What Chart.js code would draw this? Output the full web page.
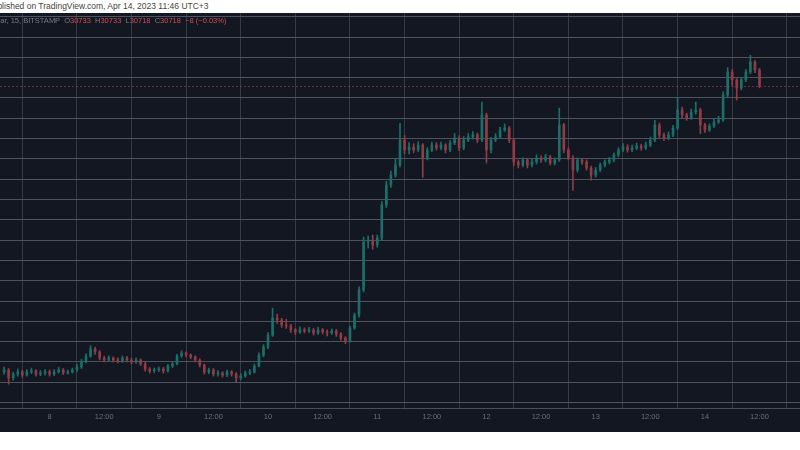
<!DOCTYPE html>
<html><head><meta charset="utf-8">
<script src="https://cdn.jsdelivr.net/npm/chart.js@4.4.0/dist/chart.umd.min.js"></script>
<style>
html,body{margin:0;padding:0;background:#fff;width:800px;height:450px;overflow:hidden;font-family:"Liberation Sans",Arial,sans-serif}
#pub{position:absolute;left:-13px;top:1px;font-size:8.5px;color:#444;white-space:nowrap}
#wrap{position:absolute;left:0;top:13px;width:800px;height:419px;background:#131722}
#hdr{position:absolute;left:-6px;top:16px;font-size:7.5px;color:#787b86;white-space:nowrap;z-index:2}
#hdr span{color:#d04b55}
</style></head><body>
<div id="pub">Published on TradingView.com, Apr 14, 2023 11:46 UTC+3</div>
<div id="hdr">Mar, 15, BITSTAMP &nbsp;O<span>30733</span>&nbsp; H<span>30733</span>&nbsp; L<span>30718</span>&nbsp; C<span>30718</span>&nbsp; <span>&minus;8 (&minus;0.03%)</span></div>
<div id="wrap"><canvas id="c"></canvas></div>
<script>
// hours relative to Apr 8 00:00
const firstHour = -10;
const firstOpen = 27900;
const closes = [27921,27842,27881,27901,27871,27901,27911,27881,27891,27901,
27881,27901,27921,27891,27901,27921,27950,28000,28059,28128,28098,28039,28019,28039,28019,28009,28039,28019,28000,28019,27980,27930,27911,27921,
27930,27911,27960,27980,28059,28088,28068,28049,28019,27970,27901,27921,27881,27891,27871,27901,27881,27842,27862,27891,27901,27960,28068,28147,
28265,28433,28413,28364,28354,28315,28295,28315,28305,28315,28285,28315,28295,28285,28305,28275,28236,28206,28334,28462,28709,29181,29201,29152,29221,29546,
29743,29841,29940,30186,30088,30117,30088,30137,30009,30088,30137,30107,30137,30088,30157,30206,30107,30186,30216,30236,30186,30432,30088,30186,30216,30285,
30304,30186,29969,29940,29989,29940,29969,30009,29989,30019,29960,29989,30334,30088,30009,29891,29989,29969,29910,29841,29891,29940,29969,29989,30039,30088,
30117,30088,30107,30127,30107,30137,30186,30334,30236,30206,30236,30304,30482,30432,30403,30462,30482,30334,30285,30324,30363,30383,30629,30856,30777,30698,
30777,30856,30954,30876,30718];
const highs = [27950,27935,27900,27930,27920,27925,27940,27925,27915,27925,
27920,27925,27945,27935,27920,27940,27975,28025,28080,28160,28145,28110,28055,28060,28050,28040,28060,28055,28035,28040,28030,27995,27945,27940,
27950,27945,27975,28000,28075,28110,28100,28080,28060,28030,27980,27940,27935,27915,27905,27920,27915,27895,27885,27910,27925,27980,28090,28170,
28290,28530,28470,28430,28420,28370,28330,28345,28335,28340,28330,28340,28330,28315,28325,28320,28290,28250,28350,28480,28740,29230,29240,29250,29250,29580,
29780,29880,30000,30350,30230,30160,30150,30170,30150,30110,30165,30160,30165,30150,30180,30250,30230,30220,30250,30270,30255,30560,30450,30210,30250,30310,
30345,30320,30200,29990,30010,30005,29995,30040,30030,30045,30035,30010,30500,30350,30110,30030,30010,30005,29990,29930,29915,29960,29990,30015,30060,30110,
30150,30140,30135,30155,30145,30165,30215,30380,30350,30255,30265,30330,30600,30510,30450,30490,30560,30500,30350,30345,30390,30420,30660,30900,30880,30790,
30800,30880,31020,30970,30890];
const lows = [27880,27780,27820,27860,27850,27860,27885,27860,27865,27870,
27860,27865,27890,27875,27880,27890,27905,27935,27990,28045,28075,28020,28000,28005,28000,27990,27995,28000,27980,27985,27965,27910,27890,27895,
27905,27890,27900,27945,27970,28045,28050,28030,28000,27950,27880,27885,27860,27860,27850,27855,27860,27800,27825,27850,27875,27890,27950,28050,
28130,28250,28380,28340,28330,28290,28270,28280,28285,28290,28265,28270,28275,28255,28270,28250,28215,28180,28195,28320,28440,28690,29120,29110,29130,29200,
29520,29720,29820,29920,30050,30050,30060,30070,29820,29990,30070,30085,30090,30060,30070,30140,30080,30090,30170,30195,30160,30170,29960,30060,30170,30200,
30270,30160,29930,29910,29920,29910,29920,29950,29965,29970,29940,29940,29975,30060,29990,29690,29870,29945,29890,29790,29820,29875,29920,29950,29970,30020,
30070,30065,30070,30090,30085,30090,30120,30170,30210,30180,30190,30220,30290,30400,30380,30390,30440,30250,30260,30270,30310,30350,30370,30610,30720,30580,
30680,30760,30840,30850,30700];
const dayTicks = [0,12,24,36,48,60,72,84,96,108,120,132,144,156];
const dayLabels = ['8','12:00','9','12:00','10','12:00','11','12:00','12','12:00','13','12:00','14','12:00'];
const priceTicks = [27600,27800,28000,28200,28400,28600,28800,29000,29200,29400,29600,29800,30000,30200,30400,30600,30800,31000,31200,31400];
const lastPrice = 30718;

const UP='#1a6f69', DN='#8f3c45';
const bodies=[], wicks=[], cols=[];
closes.forEach((c,i)=>{
  const o = i===0?firstOpen:closes[i-1];
  const h = firstHour+i;
  bodies.push({x:h,y:[o,c]});
  wicks.push({x:h,y:[lows[i],highs[i]]});
  cols.push(c>=o?UP:DN);
});
const priceLine={id:'pl',afterDatasetsDraw(ch){
  const y=ch.scales.y.getPixelForValue(lastPrice),a=ch.chartArea,cx=ch.ctx;
  cx.save();cx.strokeStyle='rgba(170,60,70,0.6)';cx.setLineDash([2,2]);cx.lineWidth=1;
  cx.beginPath();cx.moveTo(a.left,y+0.5);cx.lineTo(a.right,y+0.5);cx.stroke();cx.restore();
}};
new Chart(document.getElementById('c'),{
  type:'bar',
  data:{datasets:[
    {data:wicks,backgroundColor:cols,barThickness:1,grouped:false,order:2},
    {data:bodies,backgroundColor:cols,barThickness:2,grouped:false,minBarLength:1,order:1}
  ]},
  options:{responsive:true,maintainAspectRatio:false,animation:false,
    layout:{padding:0},
    plugins:{legend:{display:false},tooltip:{enabled:false}},
    scales:{
      x:{type:'linear',min:-10.9,max:164.9,offset:false,
        afterBuildTicks(s){s.ticks=dayTicks.map(v=>({value:v}));},
        afterFit(s){s.height=24;},
        ticks:{color:'#6b6e78',font:{size:7.5,family:'Liberation Sans Narrow, Liberation Sans'},maxRotation:0,autoSkip:false,padding:4,
          callback:(v)=>{const k=dayTicks.indexOf(v);return k>=0?dayLabels[k]:'';}},
        grid:{color:'#363a45',drawTicks:false},border:{color:'#4a4e58'}},
      y:{min:27546,max:31437,
        afterBuildTicks(s){s.ticks=priceTicks.map(v=>({value:v}));},
        afterFit(s){s.width=0;},
        ticks:{display:false},
        grid:{color:'#4f525c',drawTicks:false},border:{display:false}}
    }
  },
  plugins:[priceLine]
});
</script>
</body></html>
